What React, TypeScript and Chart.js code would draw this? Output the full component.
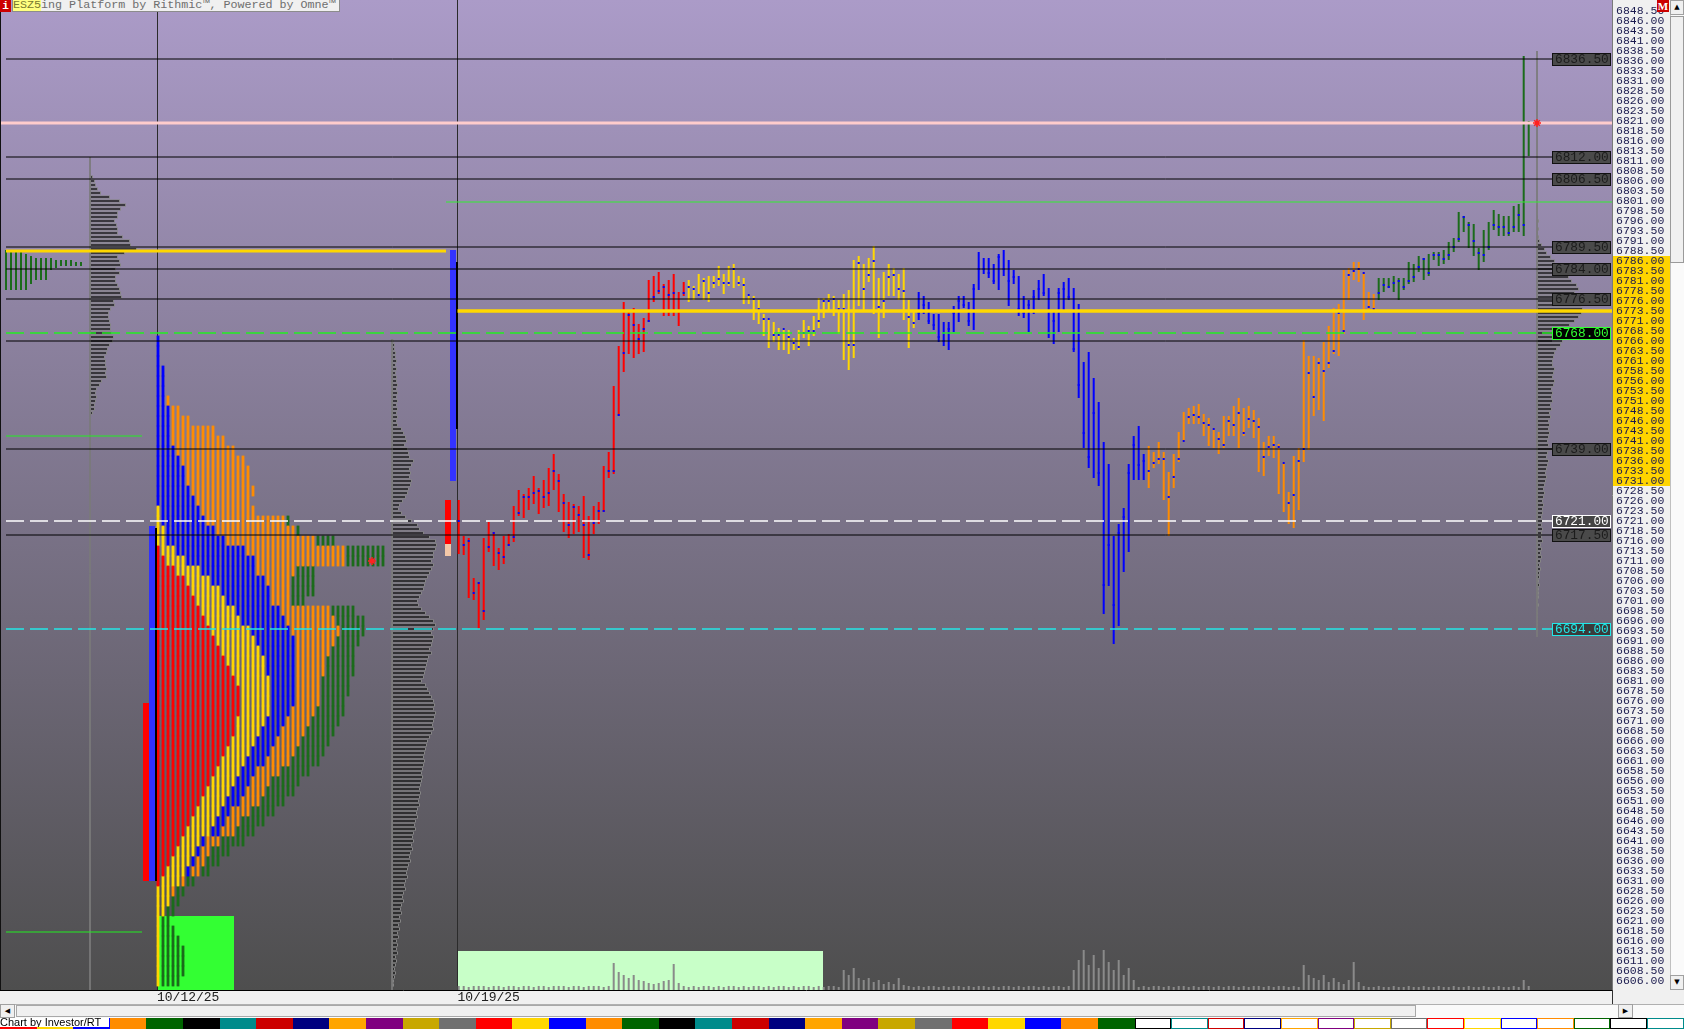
import React, { useEffect, useRef } from 'react';
import { Chart, registerables } from 'chart.js';

Chart.register(...registerables);

// ================= price axis =================
const PRICE_MIN = 6603.75;
const PRICE_MAX = 6851.25;
const TICK_FIRST = 6606.0;
const TICK_COUNT = 98;
const TICK_STEP = 2.5;
const yTickValues: number[] = [];
for (let k = 0; k < TICK_COUNT; k++) yTickValues.push(TICK_FIRST + k * TICK_STEP);
const valueAreaHigh = 6786.0;
const valueAreaLow = 6731.0;

// ================= time axis (30-minute slots) =================
const SLOT_MAX = 322.4;
const dateLabels = ['10/12/25', '10/19/25'];
const dateSlots = [31.4, 91.5];
const WEEK_BAR0 = 91.74;
const BARS_PER_DAY = 46;

// ================= current week 30-minute bars =================
const barHighs = [
  6726.25, 6717.25, 6716.75, 6706.75, 6705.75, 6716.75, 6720.75, 6718.25, 6714.25, 6717.25,
  6717.75, 6724.75, 6728.75, 6727.75, 6729.25, 6732.25, 6729.25, 6731.25, 6734.25, 6737.75,
  6732.75, 6727.75, 6725.75, 6725.25, 6724.75, 6727.25, 6722.25, 6724.75, 6725.75, 6734.75,
  6738.25, 6754.75, 6764.75, 6775.75, 6773.25, 6774.25, 6770.25, 6771.75, 6781.25, 6782.25,
  6783.25, 6780.25, 6781.25, 6782.75, 6778.25, 6780.75,
  6781.25, 6779.75, 6782.75, 6781.75,
  6782.25, 6782.25, 6784.75, 6782.75, 6784.75, 6785.25, 6782.25, 6781.75, 6777.75, 6777.25,
  6776.25, 6772.75, 6771.75, 6770.75, 6769.25, 6769.25, 6768.75, 6766.75, 6768.75, 6771.25,
  6769.75, 6772.25, 6776.75, 6776.75, 6777.75, 6777.25, 6776.25, 6777.75, 6778.75, 6786.25,
  6787.25, 6785.25, 6786.75, 6789.75, 6781.75, 6783.25, 6785.25, 6784.25, 6782.75, 6784.25,
  6776.25, 6773.25,
  6778.25, 6777.25, 6775.75, 6772.75, 6772.75, 6770.75, 6770.75, 6774.75,
  6777.25, 6777.25, 6775.75, 6780.25, 6788.25, 6786.75, 6786.75, 6785.25, 6787.75, 6788.75,
  6786.25, 6783.75, 6782.25, 6777.25, 6776.25, 6778.75, 6781.25, 6782.75, 6779.25, 6773.25,
  6779.25, 6780.75, 6781.75, 6779.25, 6775.25, 6760.75, 6763.25, 6756.75, 6750.75, 6740.75,
  6735.25, 6717.25, 6720.25, 6724.25, 6735.25, 6742.25, 6744.75, 6737.75,
  6739.75, 6738.25, 6740.75, 6738.25, 6733.25, 6737.75, 6743.25, 6748.25, 6749.25, 6749.75, 6750.25, 6747.75,
  6746.75, 6744.25, 6743.25, 6747.25, 6747.25, 6749.75, 6751.75, 6749.25, 6749.75, 6748.75,
  6746.75, 6740.75, 6742.25, 6742.25, 6740.25, 6735.75, 6728.25, 6737.25, 6739.25, 6766.25,
  6762.25, 6762.25, 6761.75, 6765.75, 6769.75, 6774.25, 6775.25, 6783.75, 6784.25, 6785.75,
  6785.75, 6783.25, 6778.25, 6777.75,
  6781.75, 6781.75, 6781.75, 6782.25, 6781.75, 6781.75, 6785.75, 6785.25, 6787.25, 6786.75,
  6787.75, 6788.25, 6788.25, 6788.75, 6790.75, 6791.75, 6798.25, 6797.25, 6795.75, 6795.25,
  6789.25, 6793.75, 6795.75, 6798.75, 6797.75, 6797.25, 6797.25, 6799.75, 6800.25, 6837.25, 6821.0,
];
const barLows = [
  6712.75, 6712.5, 6701.75, 6701.25, 6694.0, 6696.25, 6713.25, 6709.75, 6708.75, 6710.25,
  6714.75, 6715.75, 6722.25, 6721.75, 6723.75, 6725.25, 6722.75, 6724.25, 6724.75, 6728.75,
  6723.25, 6718.25, 6716.75, 6717.75, 6718.25, 6711.75, 6711.25, 6717.75, 6720.25, 6723.25,
  6731.75, 6732.75, 6747.25, 6758.25, 6762.75, 6761.75, 6762.75, 6763.25, 6770.75, 6775.75,
  6777.75, 6772.25, 6772.25, 6772.25, 6769.75, 6777.25,
  6775.75, 6776.25, 6777.25, 6776.25,
  6775.75, 6779.25, 6779.75, 6777.75, 6779.75, 6779.25, 6779.75, 6775.25, 6775.25, 6771.25,
  6770.25, 6767.25, 6764.25, 6765.75, 6763.75, 6763.75, 6762.75, 6763.75, 6763.75, 6766.75,
  6764.75, 6767.25, 6769.25, 6771.75, 6773.25, 6772.25, 6767.75, 6761.25, 6758.75, 6761.75,
  6774.75, 6773.75, 6780.75, 6772.75, 6766.75, 6771.75, 6777.25, 6777.25, 6776.25, 6771.25,
  6764.25, 6769.25,
  6771.25, 6772.75, 6770.25, 6768.75, 6765.75, 6764.75, 6763.75, 6768.25,
  6770.75, 6774.25, 6769.75, 6768.75, 6778.75, 6782.75, 6781.75, 6780.25, 6778.75, 6782.25,
  6774.75, 6780.25, 6772.25, 6771.75, 6768.25, 6772.75, 6776.25, 6777.25, 6766.75, 6765.25,
  6768.25, 6773.75, 6776.25, 6763.25, 6751.75, 6739.25, 6734.25, 6731.75, 6729.75, 6697.75,
  6704.75, 6690.25, 6694.75, 6708.25, 6713.25, 6731.25, 6731.25, 6731.25,
  6729.25, 6734.25, 6735.25, 6726.25, 6717.25, 6729.25, 6735.75, 6740.75, 6745.25, 6745.25, 6745.25, 6742.25,
  6739.75, 6739.25, 6737.75, 6739.25, 6742.25, 6742.25, 6739.25, 6742.25, 6744.25, 6741.75,
  6733.25, 6732.25, 6737.25, 6736.75, 6727.75, 6723.25, 6720.25, 6719.25, 6723.75, 6735.75,
  6738.75, 6747.25, 6748.75, 6746.0, 6759.25, 6762.75, 6762.25, 6767.75, 6776.25, 6781.25,
  6780.75, 6771.25, 6773.25, 6773.25,
  6776.25, 6778.25, 6779.25, 6778.25, 6776.25, 6778.75, 6780.25, 6780.75, 6783.25, 6781.25,
  6782.25, 6786.25, 6784.75, 6785.25, 6786.25, 6788.25, 6790.75, 6793.25, 6789.25, 6787.25,
  6783.75, 6785.75, 6788.75, 6793.75, 6792.25, 6792.25, 6792.25, 6793.25, 6793.25, 6792.25, 6812.25,
];
const barCloses = [
  6721, 6715, 6716, 6703, 6705.5, 6698.5, 6714.5, 6718, 6713, 6712,
  6715, 6717, 6723, 6727, 6727, 6728, 6728.5, 6727, 6728, 6733.5,
  6731, 6725.5, 6720, 6724.5, 6722.5, 6720, 6712.5, 6720.5, 6723.5, 6723.5,
  6733.5, 6733.5, 6747.5, 6763, 6772.5, 6770, 6766.5, 6769, 6771, 6777,
  6778.5, 6779.5, 6777.5, 6778, 6773.5, 6778,
  6779.5, 6779, 6777.5, 6781,
  6778, 6780.5, 6781.5, 6780.5, 6780.5, 6784, 6780.5, 6780, 6777.5, 6776.5,
  6774, 6771.5, 6771.5, 6767.5, 6767.5, 6769, 6767, 6765.5, 6764.5, 6768,
  6768.5, 6768.5, 6771, 6776, 6776, 6776.5, 6774, 6774, 6765, 6765,
  6785.5, 6779, 6782.5, 6786, 6774.5, 6776, 6782, 6782.5, 6779, 6778.5,
  6772, 6770.5,
  6773, 6775, 6771, 6770, 6767, 6766, 6769, 6773,
  6776, 6775, 6771, 6779, 6784, 6784, 6783, 6781, 6787, 6784,
  6781, 6782, 6774, 6773, 6775, 6777, 6779, 6778, 6768, 6771,
  6778, 6779, 6777, 6764, 6755, 6743, 6737, 6748, 6733, 6705,
  6715, 6700, 6718, 6722, 6733, 6740, 6735, 6736,
  6733.5, 6735.5, 6736.5, 6736.5, 6727, 6732, 6736.5, 6741, 6747, 6747.5, 6747, 6745.5,
  6745, 6744, 6741.5, 6740, 6746, 6745, 6748, 6743, 6746.5, 6746,
  6744.5, 6737, 6739.5, 6740, 6739.5, 6735.5, 6725.5, 6727.5, 6736, 6739,
  6758, 6752, 6760.5, 6758.5, 6760.5, 6763.5, 6773, 6768.5, 6782.5, 6783.5,
  6784, 6783, 6774.5, 6774,
  6778, 6780, 6779.5, 6780.5, 6781, 6779.5, 6781, 6782, 6784.5, 6786.5,
  6783, 6787.5, 6787.5, 6786.5, 6787.5, 6789.5, 6791.5, 6797, 6795, 6791,
  6788, 6787.5, 6789.5, 6795, 6794.5, 6794.5, 6793, 6794.5, 6797.5, 6795, 6820.5,
];
const barVolume = [
  4, 4, 3, 4, 4, 4, 3, 4, 4, 3, 4, 4, 3, 4, 4, 3, 4, 4, 3, 4, 4, 4, 3, 4, 4, 3, 4, 4, 4, 3, 4,
  27, 18, 15, 12, 15, 10, 9, 7, 6, 7, 9, 10, 26, 7, 4,
  3, 4, 3, 4, 4, 3, 4, 3, 4, 4, 3, 4, 3, 4, 4, 3, 4, 3, 4, 4, 3, 4, 3, 4, 4, 3, 4, 3, 4, 4, 3,
  20, 15, 22, 12, 10, 12, 8, 10, 6, 8, 6, 12, 5, 4,
  3, 4, 3, 4, 4, 3, 4, 3, 4, 4, 3, 4, 3, 4, 4, 3, 4, 3, 4, 4, 3, 4, 3, 4, 4, 3, 4, 3, 4, 4, 3, 4,
  20, 30, 40, 25, 35, 22, 40, 28, 20, 30, 15, 22, 10,
  3, 4, 3, 4, 4, 3, 4, 3, 4, 4, 3, 4, 3, 4, 4, 3, 4, 3, 4, 4, 3, 4, 3, 4, 4, 3, 4, 3, 4, 4, 3, 4, 3,
  25, 15, 12, 10, 15, 8, 12, 8, 6, 10, 28, 8, 4,
  3, 3, 4, 3, 3, 4, 3, 3, 4, 3, 3, 4, 3, 3, 4, 3, 3, 4, 3, 3, 4, 3, 3, 4, 3, 3, 4, 3, 3, 4, 3,
  10, 4,
];

// ================= previous week TPO profile (2.5 pt rows, 6766 down to 6606) =================
const TPO_TOP = 6766.0;
const TPO_ROW = 2.5;
const tpoRed = [
  0, 0, 0, 0, 0, 0, 0, 0, 0, 0, 0, 0, 0, 0, 0, 0, 0, 0, 0, 0, 0,
  1, 2, 4, 6, 7, 8, 9, 10, 11, 12, 13, 14, 15, 16, 17, 17, 17, 16, 16, 15,
  14, 13, 12, 11, 10, 9, 8, 7, 6, 5, 4, 3, 2, 1,
  0, 0, 0, 0, 0, 0, 0, 0, 0, 0,
];
const tpoYellow = [
  0, 0, 0, 0, 0, 0, 0, 0, 0, 0, 0, 0, 0, 0, 0, 0, 0, 1, 1, 2, 2,
  3, 4, 5, 5, 6, 6, 7, 7, 8, 8, 8, 8, 7, 7, 6, 6, 6, 6, 5, 5,
  5, 5, 5, 5, 5, 5, 5, 5, 5, 4, 4, 4, 4, 4,
  3, 3, 2, 1, 1, 1, 1, 1, 1, 1,
];
const tpoBlue = [
  1, 1, 1, 2, 2, 2, 2, 3, 3, 3, 3, 4, 5, 6, 6, 7, 8, 8, 9, 10, 12,
  14, 14, 11, 11, 10, 9, 9, 9, 8, 8, 7, 6, 6, 5, 5, 5, 4, 4, 4, 4,
  4, 4, 3, 3, 3, 3, 2, 2, 2, 1, 1, 1, 1, 0,
  0, 0, 0, 0, 0, 0, 0, 0, 0, 0,
];
const tpoOrange = [
  0, 0, 0, 0, 0, 0, 1, 2, 4, 9, 11, 12, 13, 13, 13, 13, 11, 11, 16, 16, 18,
  20, 18, 8, 5, 4, 4, 10, 10, 10, 8, 7, 6, 6, 5, 5, 5, 5, 5, 5, 5,
  5, 5, 5, 4, 4, 4, 4, 3, 3, 3, 2, 2, 2, 1,
  1, 0, 0, 0, 0, 0, 0, 0, 0, 0,
];
const tpoGreen = [
  0, 0, 0, 0, 0, 0, 0, 0, 0, 0, 0, 0, 0, 0, 0, 0, 0, 0, 1, 1, 4,
  8, 8, 4, 5, 5, 3, 5, 6, 5, 5, 5, 6, 6, 6, 6, 5, 6, 6, 6, 6,
  6, 6, 6, 6, 6, 5, 5, 5, 4, 5, 4, 3, 2, 2,
  2, 2, 2, 2, 3, 4, 5, 5, 5, 4,
];

// ================= earlier session TPO columns (far left) =================
const leftColLows = [6778.75, 6778.75, 6778.75, 6778.75, 6778.75, 6780.25, 6781.25, 6781.25, 6781.25, 6783.75, 6784.25, 6784.75, 6784.75, 6784.75, 6784.75, 6784.75];
const leftColHighs = [6788.75, 6788.75, 6788.75, 6788.75, 6787.75, 6787.25, 6786.75, 6786.75, 6786.75, 6786.75, 6786.25, 6786.25, 6786.25, 6786.25, 6785.75, 6785.75];

// ================= week summary columns =================
const prevWeekRed = [6631.0, 6675.5];
const prevWeekBlue = [6631.0, 6719.75];
const prevWeekBlack = [6631.0, 6719.25];
const currWeekRed = [6715.25, 6726.25];
const currWeekPeach = [6712.25, 6715.25];
const currWeekBlue = [6731.0, 6788.75];
const currWeekBlack = [6744.0, 6785.75];

// ================= volume profiles (1 pt rows, top price first) =================
const vpEarlierAxisTop = 6812;
const vpEarlierTop = 6807;
const vpEarlier = [
  3, 5, 6, 8, 11, 20, 30, 36, 31, 28, 28, 25, 27, 28, 28, 33, 40, 41, 47, 35,
  28, 30, 31, 26, 30, 26, 26, 28, 30, 31, 32, 24, 25, 21, 19, 19, 20, 21, 21, 22,
  24, 23, 20, 18, 17, 15, 16, 16, 17, 16, 17, 12, 10, 7, 6, 7, 6, 5, 5, 3,
];
const vpPrevTop = 6766;
const vpPrev = [
  2, 3, 3, 4, 4, 5, 4, 5, 4, 5, 5, 6, 5, 6, 5, 6, 5, 6, 5, 6, 5, 6,
  10, 12, 14, 15, 13, 16, 17, 18, 22, 20, 18, 19, 18, 20, 19, 17, 16, 14, 11, 8, 7, 10,
  14, 20, 26, 28, 32, 38, 44, 45, 44, 42, 42, 40, 42, 40, 38, 36, 34, 33, 32, 30, 28, 26,
  27, 30, 34, 38, 42, 44, 42, 40, 42, 41, 40, 38, 40, 37, 36, 35, 34, 33, 32, 30,
  34, 36, 38, 40, 42, 43, 42, 44, 43, 42, 41, 42, 40, 38, 36, 35, 34, 33, 32, 33,
  32, 31, 30, 31, 30, 29, 28, 29, 28, 27, 28, 26, 25, 26, 24, 23, 24, 22, 21, 22,
  20, 21, 19, 18, 19, 17, 16, 15, 16, 14, 13, 14, 12, 11, 12, 10, 9, 10, 8, 9,
  7, 8, 6, 7, 5, 6, 5, 6, 4, 5, 4, 3, 4, 3, 2, 2,
];
const vpCurrTop = 6797;
const vpCurr = [
  1, 2, 1, 2, 1, 2, 3, 5, 8, 10,
  14, 18, 22, 28, 30, 32, 35, 40, 42, 38,
  36, 40, 44, 46, 45, 42, 38, 33, 28, 22,
  20, 26, 24, 20, 18, 17, 16, 16, 18, 17,
  16, 18, 17, 15, 16, 15, 16, 14, 15, 13,
  14, 12, 13, 12, 13, 12, 11, 12, 16, 11,
  10, 12, 11, 10, 9, 10, 9, 8, 7, 8,
  7, 6, 7, 6, 6, 5, 6, 5, 6, 5,
  5, 6, 4, 5, 4, 5, 4, 3, 4, 3,
  3, 2, 3, 2, 2, 2, 1, 2, 1, 1,
  1, 1, 1, 1,
];

// ================= reference levels =================
const labeledLevels = [6836.5, 6812.0, 6806.5, 6789.5, 6784.0, 6776.5, 6739.0, 6717.5];
const plainLevel = 6766.0;
const greenDashLevel = 6768.0;
const whiteDashLevel = 6721.0;
const cyanDashLevel = 6694.0;
const lastPriceLevel = 6820.5;
const weekHighLine = 6800.75;
const prevPoc = 6788.5;
const currPoc = 6773.5;
const leftGreenLevels = [6742.25, 6618.25];
const starPoints = [
  { slot: 307.4, price: 6820.5 },
  { slot: 74.4, price: 6711.0 },
];

// ================= layout constants (slots) =================
const LINE_X0 = 1.2;
const LABEL_X = 310.4;
const LEFT_COL0 = 1.2;
const TPO_COL0 = 31.6;
const VP_EARLIER_X = 18;
const VP_PREV_X = 78.4;
const VP_CURR_X = 307.4;
const PROFILE_SCALE = 0.2;

const dayColors = ['#ff0000', '#ffd700', '#0000ff', '#ff8c00', '#1b6b1b'];
const palette = ['#ff0000', '#ffd700', '#0000ff', '#ff8c00', '#006400', '#000000', '#008b8b', '#cc0000', '#000080', '#ffa500', '#800080', '#c8a800', '#707070'];

function hline(pts: any[], color: string, width: number, dash: number[] = [], order = 10) {
  return {
    type: 'line', data: pts, yAxisID: 'y', borderColor: color, borderWidth: width, borderDash: dash,
    pointRadius: 0, fill: false, tension: 0, order, spanGaps: false,
  };
}

function floating(data: any[], color: string, thickness: number, order: number, extra: any = {}) {
  return {
    type: 'bar', data, yAxisID: 'y', backgroundColor: color, barThickness: thickness, grouped: false,
    borderWidth: 0, inflateAmount: 0, order, ...extra,
  };
}

function profile(top: number, values: number[], base: number) {
  return {
    type: 'bar', indexAxis: 'y', yAxisID: 'y', xAxisID: 'x',
    data: values.map((v, k) => ({ y: top - k, x: [base, base + v * PROFILE_SCALE] })),
    backgroundColor: '#1e1e1e', borderColor: '#858585', borderWidth: 1, borderSkipped: false,
    barThickness: 3.4, grouped: false, inflateAmount: 0, order: 30,
  };
}

function buildDatasets() {
  const ds: any[] = [];
  labeledLevels.forEach((p) => ds.push(hline([{ x: LINE_X0, y: p }, { x: LABEL_X, y: p }], '#000000', 1)));
  ds.push(hline([{ x: LINE_X0, y: plainLevel }, { x: LABEL_X, y: plainLevel }], '#000000', 1));
  ds.push(hline([{ x: LINE_X0, y: greenDashLevel }, { x: LABEL_X, y: greenDashLevel }], '#22ee22', 1.5, [18, 6]));
  ds.push(hline([{ x: LINE_X0, y: whiteDashLevel }, { x: LABEL_X, y: whiteDashLevel }], '#ffffff', 1.5, [18, 6]));
  ds.push(hline([{ x: LINE_X0, y: cyanDashLevel }, { x: LABEL_X, y: cyanDashLevel }], '#22e8e8', 1.5, [18, 6]));
  ds.push(hline([{ x: 0, y: lastPriceLevel }, { x: SLOT_MAX, y: lastPriceLevel }], '#ffcccc', 3));
  ds.push(hline([{ x: 89.2, y: weekHighLine }, { x: SLOT_MAX, y: weekHighLine }], '#33ee33', 1.2));
  ds.push(hline([{ x: LINE_X0, y: prevPoc }, { x: 89.2, y: prevPoc }], '#ffd700', 3));
  ds.push(hline([{ x: dateSlots[1], y: currPoc }, { x: SLOT_MAX, y: currPoc }], '#ffd700', 3.5));
  leftGreenLevels.forEach((p) => ds.push(hline([{ x: LINE_X0, y: p }, { x: 28.4, y: p }], '#22ee22', 1.2)));
  ds.push(hline([{ x: VP_EARLIER_X, y: vpEarlierAxisTop }, { x: VP_EARLIER_X, y: PRICE_MIN }], '#7a7a7a', 1, [], 28));
  ds.push(hline([{ x: VP_PREV_X, y: vpPrevTop + 0.5 }, { x: VP_PREV_X, y: PRICE_MIN }], '#7a7a7a', 1, [], 28));
  ds.push(hline([{ x: VP_CURR_X, y: 6838.5 }, { x: VP_CURR_X, y: 6692 }], '#7a7a7a', 1, [], 28));
  ds.push({
    type: 'line', yAxisID: 'y', showLine: false, data: starPoints.map((s) => ({ x: s.slot, y: s.price })),
    pointStyle: 'star', pointRadius: 4, pointBorderColor: '#ff2020', pointBorderWidth: 1.5, order: 5,
  });
  ds.push({
    type: 'line', yAxisID: 'y', showLine: false,
    data: barCloses.map((c, i) => ({ x: WEEK_BAR0 + i, y: c })),
    pointStyle: 'rect', pointRadius: 1.45, pointBackgroundColor: '#0000ff', pointBorderWidth: 0, order: 15,
  });
  for (let d = 0; d < 5; d++) {
    const data: any[] = [];
    for (let i = d * BARS_PER_DAY; i < Math.min((d + 1) * BARS_PER_DAY, barHighs.length); i++) {
      data.push({ x: WEEK_BAR0 + i, y: [barLows[i], barHighs[i]] });
    }
    ds.push(floating(data, dayColors[d], 2, 20));
  }
  const counts = [tpoRed, tpoYellow, tpoBlue, tpoOrange, tpoGreen];
  const cells: any[][] = counts.map(() => []);
  tpoRed.forEach((_, r) => {
    const p = TPO_TOP - r * TPO_ROW;
    let col = 0;
    counts.forEach((arr, d) => {
      for (let k = 0; k < arr[r]; k++) {
        cells[d].push({ x: TPO_COL0 + col, y: [p - TPO_ROW / 2, p + TPO_ROW / 2] });
        col++;
      }
    });
  });
  cells.forEach((c, d) => ds.push(floating(c, dayColors[d], 2, 25, { inflateAmount: 0.4 })));
  ds.push(floating(leftColLows.map((lo, k) => ({ x: LEFT_COL0 + k, y: [lo, leftColHighs[k]] })), '#1b6b1b', 2, 25));
  ds.push(floating([{ x: 29.2, y: prevWeekRed }], '#ff0000', 6, 22));
  ds.push(floating([{ x: 30.4, y: prevWeekBlue }], '#3030ff', 6, 22));
  ds.push(floating([{ x: 31.2, y: prevWeekBlack }], '#000000', 2, 21));
  ds.push(floating([{ x: 89.6, y: currWeekRed }], '#ff0000', 6, 22));
  ds.push(floating([{ x: 89.6, y: currWeekPeach }], '#f4c8a8', 6, 22));
  ds.push(floating([{ x: 90.6, y: currWeekBlue }], '#3333ff', 6, 22));
  ds.push(floating([{ x: 91.4, y: currWeekBlack }], '#000000', 2, 21));
  ds.push(profile(vpEarlierTop, vpEarlier, VP_EARLIER_X));
  ds.push(profile(vpPrevTop, vpPrev, VP_PREV_X));
  ds.push(profile(vpCurrTop, vpCurr, VP_CURR_X));
  ds.push({
    type: 'bar', yAxisID: 'yv', data: barVolume.map((v, i) => ({ x: WEEK_BAR0 + i, y: v })),
    backgroundColor: '#8a8a8a', barThickness: 2, grouped: false, inflateAmount: 0, order: 35,
  });
  return ds;
}

const backgroundPlugin = {
  id: 'bgPaint',
  beforeDraw(chart: any) {
    const { ctx, chartArea: a, scales } = chart;
    ctx.save();
    ctx.fillStyle = '#f0f0f0';
    ctx.fillRect(0, 0, chart.width, chart.height);
    const g = ctx.createLinearGradient(0, a.top, 0, a.bottom);
    g.addColorStop(0, '#ab9bc8');
    g.addColorStop(1, '#4e4e4e');
    ctx.fillStyle = g;
    ctx.fillRect(a.left, a.top, a.right - a.left, a.bottom - a.top);
    const y = scales.y;
    const t = y.getPixelForValue(valueAreaHigh + TICK_STEP / 2);
    const b = y.getPixelForValue(valueAreaLow - TICK_STEP / 2);
    ctx.fillStyle = '#ffd400';
    ctx.fillRect(a.right + 1, t, 57, b - t);
    const x = scales.x;
    const yv = scales.yv;
    ctx.fillStyle = '#33ff33';
    ctx.fillRect(x.getPixelForValue(31.4), yv.getPixelForValue(74), x.getPixelForValue(46.8) - x.getPixelForValue(31.4), yv.getPixelForValue(0) - yv.getPixelForValue(74));
    ctx.fillStyle = '#c8ffc8';
    ctx.fillRect(x.getPixelForValue(91.5), yv.getPixelForValue(39), x.getPixelForValue(164.6) - x.getPixelForValue(91.5), yv.getPixelForValue(0) - yv.getPixelForValue(39));
    ctx.restore();
  },
  afterDatasetsDraw(chart: any) {
    const { ctx, chartArea: a, scales } = chart;
    const y = scales.y;
    const boxes: any[] = labeledLevels.map((p) => ({ p, fill: '#4a4a4a', stroke: '#111111', text: '#1c1c1c' }));
    boxes.push({ p: greenDashLevel, fill: '#000000', stroke: '#33ff33', text: '#33ff33' });
    boxes.push({ p: whiteDashLevel, fill: '#444444', stroke: '#ffffff', text: '#ffffff' });
    boxes.push({ p: cyanDashLevel, fill: '#3a3a3a', stroke: '#22e8e8', text: '#22e8e8' });
    ctx.save();
    ctx.font = '12.8px "Liberation Mono"';
    ctx.textBaseline = 'middle';
    ctx.textAlign = 'left';
    boxes.forEach((bx) => {
      const py = Math.round(y.getPixelForValue(bx.p));
      const x0 = a.right - 60;
      ctx.fillStyle = bx.fill;
      ctx.fillRect(x0, py - 6, 59, 13);
      ctx.strokeStyle = bx.stroke;
      ctx.lineWidth = 1;
      ctx.strokeRect(x0 + 0.5, py - 5.5, 58, 12);
      ctx.fillStyle = bx.text;
      ctx.fillText(bx.p.toFixed(2), x0 + 3, py + 1);
    });
    ctx.fillStyle = '#111111';
    ctx.fillRect(0, 0, 1, a.bottom);
    ctx.restore();
  },
};

export default function App() {
  const ref = useRef<HTMLCanvasElement>(null);
  useEffect(() => {
    document.body.style.margin = '0';
    document.body.style.overflow = 'hidden';
    const chart = new Chart(ref.current as HTMLCanvasElement, {
      type: 'line',
      data: { datasets: buildDatasets() as any },
      plugins: [backgroundPlugin as any],
      options: {
        responsive: false,
        animation: false,
        devicePixelRatio: 1,
        events: [],
        layout: { padding: 0, autoPadding: false },
        plugins: { legend: { display: false }, tooltip: { enabled: false }, title: { display: false } },
        scales: {
          x: {
            type: 'linear', min: 0, max: SLOT_MAX, offset: false, bounds: 'data', position: 'bottom',
            afterBuildTicks: (s: any) => { s.ticks = dateSlots.map((v) => ({ value: v })); },
            afterFit: (s: any) => { s.height = 14; s.paddingLeft = 0; s.paddingRight = 0; },
            ticks: {
              autoSkip: false, maxRotation: 0, minRotation: 0, align: 'start', padding: 1, color: '#202020',
              font: { family: 'Liberation Mono', size: 13, lineHeight: 1 },
              callback: (_v: any, i: number) => dateLabels[i],
            },
            grid: { display: true, drawOnChartArea: true, drawTicks: false, color: '#2b2b2b', lineWidth: 1, offset: false },
            border: { display: true, color: '#000000', width: 1 },
          },
          y: {
            type: 'linear', position: 'right', min: PRICE_MIN, max: PRICE_MAX, bounds: 'data', offset: false,
            afterBuildTicks: (s: any) => { s.ticks = yTickValues.map((v) => ({ value: v })); },
            afterFit: (s: any) => { s.width = 72; s.paddingTop = 0; s.paddingBottom = 0; },
            ticks: {
              autoSkip: false, padding: 4, color: '#1a1a4e',
              font: { family: 'Liberation Mono', size: 11.5, lineHeight: 0.01 },
              callback: (v: any) => Number(v).toFixed(2),
            },
            grid: { display: false, drawTicks: false, offset: false },
            border: { display: true, color: '#7a7a7a' },
          },
          yv: { type: 'linear', display: false, min: 0, max: 990, offset: false },
        },
      } as any,
    });
    return () => chart.destroy();
  }, []);

  const blocks: any[] = [];
  for (let k = 0; k < 46; k++) {
    const c = palette[k % palette.length];
    const filled = k < 31;
    blocks.push(
      <div key={k} style={{
        position: 'absolute', left: k * 36.6, top: 1018, width: 36.6, height: 11, boxSizing: 'border-box',
        background: filled ? c : '#ffffff', border: filled ? 'none' : `1px solid ${c}`,
      }} />,
    );
  }

  return (
    <div style={{ position: 'relative', width: 1684, height: 1029, background: '#f0f0f0', overflow: 'hidden' }}>
      <canvas ref={ref} width={1684} height={1004} style={{ position: 'absolute', left: 0, top: 0 }} />
      <div style={{ position: 'absolute', left: 0, top: 0, width: 11, height: 12, background: '#cc0000', color: '#ffffff', font: 'bold 11px "Liberation Mono"', lineHeight: '12px', textAlign: 'center' }}>i</div>
      <div style={{ position: 'absolute', left: 12, top: 0, width: 326, height: 11, background: '#f0f0f0', border: '1px solid #8c8c8c', borderTop: 'none', font: '11.7px "Liberation Mono"', lineHeight: '11px', color: '#6e6e6e', whiteSpace: 'nowrap', overflow: 'hidden' }}>
        <span style={{ background: '#ffff80', color: '#7a7a30' }}>ESZ5</span>ing Platform by Rithmic™, Powered by Omne™
      </div>
      <div style={{ position: 'absolute', left: 1657, top: 0, width: 12, height: 12, background: '#cc0000', color: '#ffffff', font: 'bold 11px "Liberation Serif"', lineHeight: '12px', textAlign: 'center' }}>M</div>
      <div style={{ position: 'absolute', left: 1670, top: 0, width: 14, height: 990, background: '#fafafa', borderLeft: '1px solid #c0c0c0', boxSizing: 'border-box' }} />
      <div style={{ position: 'absolute', left: 1670, top: 0, width: 14, height: 15, background: '#f0f0f0', border: '1px solid #a0a0a0', boxSizing: 'border-box', font: '7px "DejaVu Sans"', lineHeight: '13px', textAlign: 'center', color: '#000' }}>▲</div>
      <div style={{ position: 'absolute', left: 1670, top: 16, width: 14, height: 247, background: '#f0f0f0', border: '1px solid #9a9a9a', boxSizing: 'border-box' }} />
      <div style={{ position: 'absolute', left: 1670, top: 975, width: 14, height: 15, background: '#f0f0f0', border: '1px solid #a0a0a0', boxSizing: 'border-box', font: '7px "DejaVu Sans"', lineHeight: '13px', textAlign: 'center', color: '#000' }}>▼</div>
      <div style={{ position: 'absolute', left: 1612, top: 990, width: 1, height: 28, background: '#303030' }} />
      <div style={{ position: 'absolute', left: 0, top: 1004, width: 1684, height: 14, background: '#fafafa', borderTop: '1px solid #b0b0b0', boxSizing: 'border-box' }} />
      <div style={{ position: 'absolute', left: 0, top: 1004, width: 15, height: 14, background: '#f0f0f0', border: '1px solid #a0a0a0', boxSizing: 'border-box', font: '7px "DejaVu Sans"', lineHeight: '12px', textAlign: 'center', color: '#000' }}>◀</div>
      <div style={{ position: 'absolute', left: 16, top: 1005, width: 1400, height: 12, background: '#f0f0f0', border: '1px solid #a8a8a8', boxSizing: 'border-box' }} />
      <div style={{ position: 'absolute', left: 1618, top: 1004, width: 15, height: 14, background: '#f0f0f0', border: '1px solid #a0a0a0', boxSizing: 'border-box', font: '7px "DejaVu Sans"', lineHeight: '12px', textAlign: 'center', color: '#000' }}>▶</div>
      {blocks}
      <div style={{ position: 'absolute', left: 0, top: 1018, width: 109, height: 9, background: '#ffffff', font: '11px "Liberation Sans"', lineHeight: '9px', color: '#000000', whiteSpace: 'nowrap', overflow: 'hidden' }}>Chart by Investor/RT</div>
    </div>
  );
}
